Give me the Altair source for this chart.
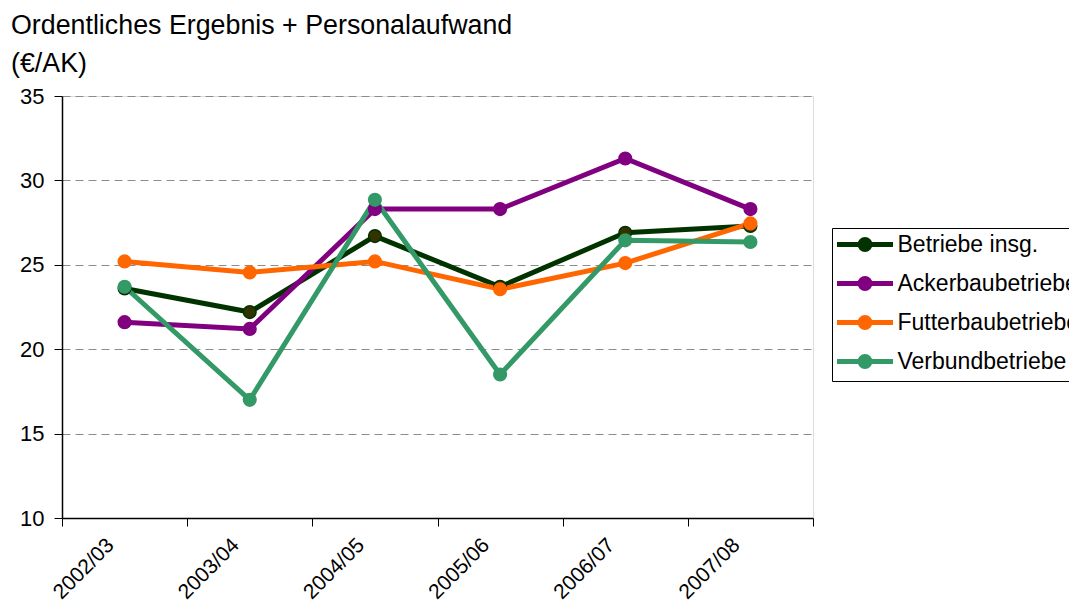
import altair as alt
import pandas as pd

years = ["2002/03", "2003/04", "2004/05", "2005/06", "2006/07", "2007/08"]
series_names = ["Betriebe insg.", "Ackerbaubetriebe", "Futterbaubetriebe", "Verbundbetriebe"]
betriebe = [23.6, 22.2, 26.7, 23.7, 26.9, 27.3]
acker = [21.6, 21.2, 28.3, 28.3, 31.3, 28.3]
futter = [25.2, 24.55, 25.2, 23.55, 25.1, 27.45]
verbund = [23.7, 17.0, 28.85, 18.5, 26.45, 26.35]
y_ticks = [10, 15, 20, 25, 30, 35]
line_colors = ["#003300", "#800080", "#FF6600", "#339966"]
marker_fills = ["#333300", "#800080", "#FF6600", "#339966"]
title_lines = ["Ordentliches Ergebnis + Personalaufwand", "(€/AK)"]

rows = []
for name, vals in zip(series_names, [betriebe, acker, futter, verbund]):
    for yr, v in zip(years, vals):
        rows.append({"Jahr": yr, "Serie": name, "Wert": v})
df = pd.DataFrame(rows)

FONT = "Liberation Sans"
legend_symbol = (
    "M-2.8,0H2.8"
    "M-0.5,0A0.5,0.5,0,1,1,0.5,0A0.5,0.5,0,1,1,-0.5,0"
    "M-0.17,0A0.17,0.17,0,1,1,0.17,0A0.17,0.17,0,1,1,-0.17,0"
)

x_enc = alt.X(
    "Jahr:N",
    sort=years,
    scale=alt.Scale(paddingInner=0, paddingOuter=0),
    axis=alt.Axis(
        title=None,
        tickBand="extent",
        tickSize=8,
        tickColor="black",
        domainColor="black",
        domainWidth=1.5,
        labelAngle=-45,
        labelAlign="right",
        labelBaseline="top",
        labelFontSize=21,
        labelFont=FONT,
        labelColor="black",
        labelPadding=8,
        labelOffset=-22,
        grid=False,
    ),
)
y_enc = alt.Y(
    "Wert:Q",
    scale=alt.Scale(domain=[10, 35], nice=False, zero=False),
    axis=alt.Axis(
        title=None,
        values=y_ticks,
        tickSize=8,
        tickColor="black",
        domainColor="black",
        domainWidth=1.5,
        labelFontSize=22,
        labelFont=FONT,
        labelColor="black",
        labelPadding=10,
        grid=True,
        gridColor="#8c8c8c",
        gridDash=[8, 5],
        gridWidth=1,
    ),
)

base = alt.Chart(df)

lines = base.mark_line(strokeWidth=5).encode(
    x=x_enc,
    y=y_enc,
    color=alt.Color(
        "Serie:N",
        sort=series_names,
        scale=alt.Scale(domain=series_names, range=line_colors),
        legend=alt.Legend(
            title=None,
            orient="none",
            legendX=770,
            legendY=132,
            direction="vertical",
            symbolType=legend_symbol,
            symbolSize=400,
            symbolStrokeWidth=5,
            symbolOffset=16.5,
            labelFontSize=23,
            labelFont=FONT,
            labelColor="black",
            labelOffset=20,
            rowPadding=8,
            padding=4,
            strokeColor="black",
            fillColor="white",
            labelLimit=400,
        ),
    ),
)

points = base.mark_point(filled=True, size=160, strokeWidth=1.5, opacity=1).encode(
    x=x_enc,
    y=y_enc,
    fill=alt.Fill("Serie:N", scale=alt.Scale(domain=series_names, range=marker_fills), legend=None),
    stroke=alt.Stroke("Serie:N", scale=alt.Scale(domain=series_names, range=line_colors), legend=None),
)

chart = (
    alt.layer(lines, points)
    .properties(
        width=751,
        height=422,
        title=alt.TitleParams(
            text=title_lines,
            anchor="start",
            frame="group",
            fontSize=26.8,
            font=FONT,
            fontWeight="normal",
            color="black",
            lineHeight=38,
            dx=-51,
            dy=-3,
        ),
        autosize=alt.AutoSizeParams(type="none"),
        padding={"left": 54, "top": 88, "right": 256, "bottom": 85},
    )
    .configure_view(stroke="#808080", strokeWidth=1.5)
    .configure(background="white")
)

chart.save("out.html", embed_options={"renderer": "svg", "actions": False})
